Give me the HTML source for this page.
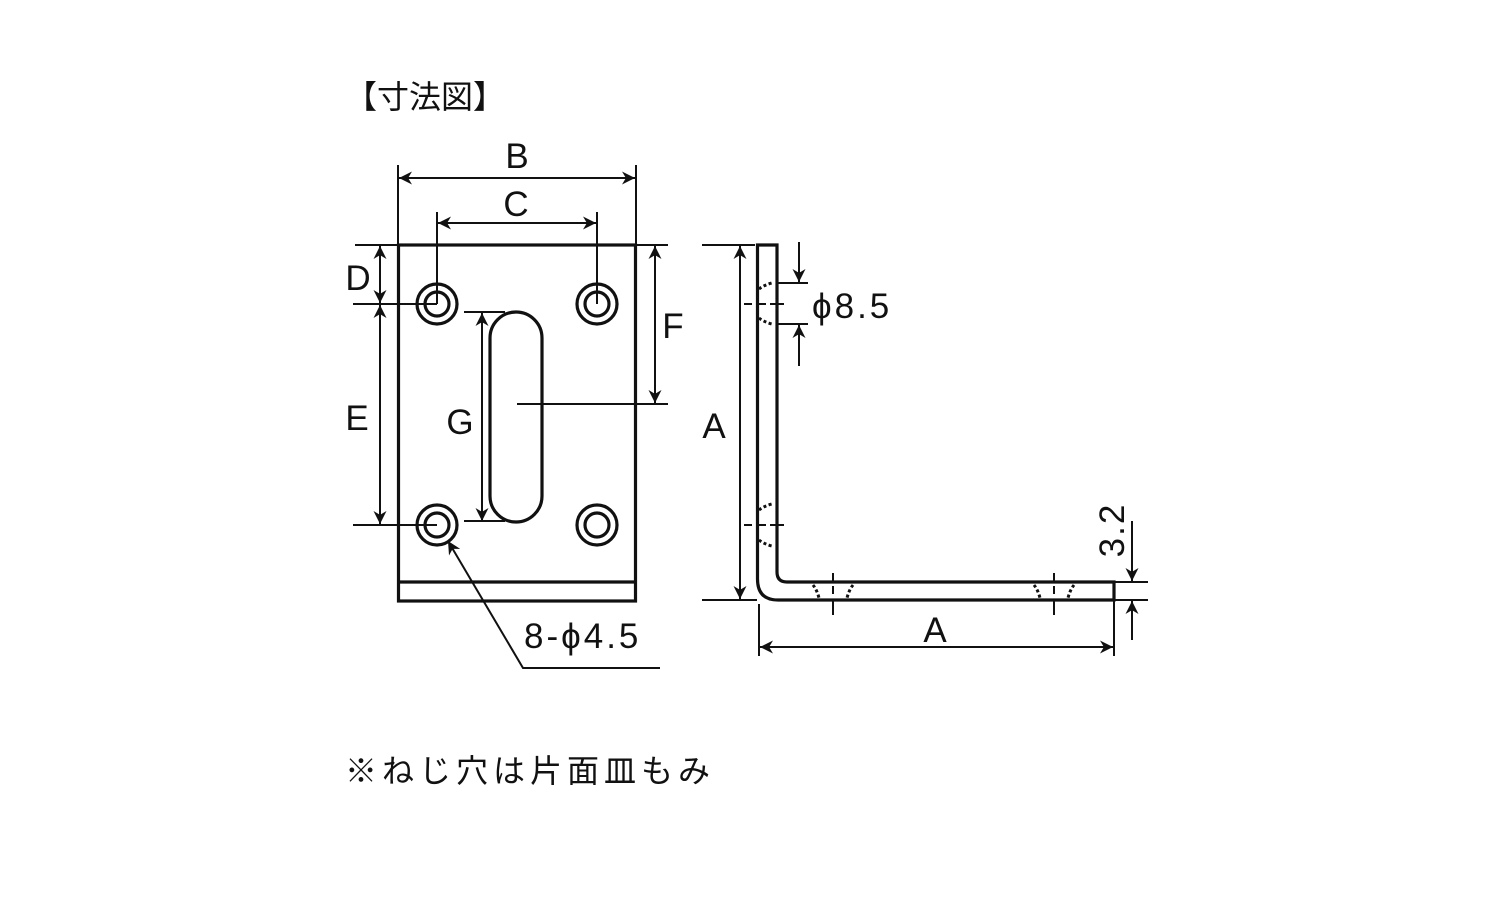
<!DOCTYPE html>
<html><head><meta charset="utf-8"><style>
html,body{margin:0;padding:0;background:#fff;}
svg{display:block}
text{font-family:"Liberation Sans","Noto Sans CJK JP",sans-serif;fill:#111}
</style></head><body>
<svg width="1500" height="900" viewBox="0 0 1500 900" xmlns="http://www.w3.org/2000/svg">
<defs>
<marker id="ar" viewBox="0 0 10 10" refX="10" refY="5" markerWidth="20" markerHeight="13" markerUnits="userSpaceOnUse" orient="auto-start-reverse">
<path d="M0,0 L10,5 L0,10 L3,5 z" fill="#111"/>
</marker>
</defs>
<text x="345" y="108" font-size="32">【寸法図】</text>
<text x="345" y="782" font-size="32" letter-spacing="5">※ねじ穴は片面皿もみ</text>

<g stroke="#111" fill="none">
<rect x="398.5" y="245" width="237" height="356" stroke-width="3.2"/>
<line x1="398" y1="582" x2="636" y2="582" stroke-width="3.2"/>
<g stroke-width="3.2">
<circle cx="437" cy="304" r="20"/><circle cx="437" cy="304" r="12"/>
<circle cx="597" cy="304" r="20"/><circle cx="597" cy="304" r="12"/>
<circle cx="437" cy="525" r="20"/><circle cx="437" cy="525" r="12"/>
<circle cx="597" cy="525" r="20"/><circle cx="597" cy="525" r="12"/>
<rect x="490" y="312" width="52" height="210" rx="26" ry="26"/>
</g>
<g stroke-width="2">
<line x1="398" y1="165" x2="398" y2="245"/><line x1="636" y1="165" x2="636" y2="245"/>
<line x1="437" y1="212" x2="437" y2="304"/><line x1="597" y1="212" x2="597" y2="304"/>
<line x1="355" y1="245" x2="668" y2="245"/>
<line x1="353" y1="304" x2="437" y2="304"/>
<line x1="353" y1="525" x2="437" y2="525"/>
<line x1="464" y1="312" x2="505" y2="312"/>
<line x1="464" y1="521" x2="505" y2="521"/>
<line x1="517" y1="404" x2="668" y2="404"/>
<line x1="399" y1="178" x2="635" y2="178" marker-start="url(#ar)" marker-end="url(#ar)"/>
<line x1="438" y1="223" x2="596" y2="223" marker-start="url(#ar)" marker-end="url(#ar)"/>
<line x1="380" y1="246" x2="380" y2="303" marker-start="url(#ar)" marker-end="url(#ar)"/>
<line x1="380" y1="305" x2="380" y2="524" marker-start="url(#ar)" marker-end="url(#ar)"/>
<line x1="482" y1="313" x2="482" y2="521" marker-start="url(#ar)" marker-end="url(#ar)"/>
<line x1="655" y1="246" x2="655" y2="403" marker-start="url(#ar)" marker-end="url(#ar)"/>
<polyline points="660,668 523,668 448,541" marker-end="url(#ar)"/>
</g>

<path d="M757.5,245 L777,245 L777,572 Q777,582 787,582 L1114,582 L1114,600 L778,600 Q757.5,600 757.5,579 Z" stroke-width="3.2"/>
<g stroke-width="2">
<line x1="702" y1="245" x2="755" y2="245"/>
<line x1="702" y1="600" x2="757" y2="600"/>
<line x1="740" y1="246" x2="740" y2="599" marker-start="url(#ar)" marker-end="url(#ar)"/>
<line x1="759" y1="604" x2="759" y2="656"/>
<line x1="1114" y1="600" x2="1114" y2="656"/>
<line x1="760" y1="647" x2="1113" y2="647" marker-start="url(#ar)" marker-end="url(#ar)"/>
<line x1="777" y1="283" x2="808" y2="283"/>
<line x1="777" y1="324" x2="808" y2="324"/>
<line x1="799" y1="242" x2="799" y2="282" marker-end="url(#ar)"/>
<line x1="799" y1="366" x2="799" y2="325" marker-end="url(#ar)"/>
<line x1="1114" y1="582" x2="1148" y2="582"/>
<line x1="1114" y1="600" x2="1148" y2="600"/>
<line x1="1132" y1="521" x2="1132" y2="581" marker-end="url(#ar)"/>
<line x1="1132" y1="640" x2="1132" y2="601" marker-end="url(#ar)"/>
<path d="M744,304 h8 M758,304 h8 M770,304 h14"/>
<path d="M744,525 h8 M758,525 h8 M770,525 h14"/>
<path d="M833,573 v8 M833,586 v8 M833,600 v15"/>
<path d="M1054,573 v8 M1054,586 v8 M1054,600 v15"/>
</g>
<g stroke-width="3" stroke-dasharray="3 2.5">
<path d="M759,289 Q764,285 772,283"/>
<path d="M759,318 Q764,322 772,324"/>
<path d="M759,510 Q764,506 772,504"/>
<path d="M759,540 Q764,544 772,546"/>
<path d="M813,585 Q817,590 819,598"/>
<path d="M853,585 Q849,590 847,598"/>
<path d="M1034,585 Q1038,590 1040,598"/>
<path d="M1074,585 Q1070,590 1068,598"/>
</g>
</g>

<g font-size="35">
<text x="517" y="168" text-anchor="middle">B</text>
<text x="516" y="216" text-anchor="middle">C</text>
<text x="358" y="290" text-anchor="middle">D</text>
<text x="357" y="430" text-anchor="middle">E</text>
<text x="460" y="434" text-anchor="middle">G</text>
<text x="673" y="338" text-anchor="middle">F</text>
<text x="714" y="438" text-anchor="middle">A</text>
<text x="935" y="642" text-anchor="middle">A</text>
<text x="524" y="648" letter-spacing="3">8-ϕ4.5</text>
<text x="812" y="318" letter-spacing="3">ϕ8.5</text>
<text transform="translate(1124,530) rotate(-90)" text-anchor="middle" x="0" y="0" letter-spacing="2">3.2</text>
</g>
</svg>
</body></html>
